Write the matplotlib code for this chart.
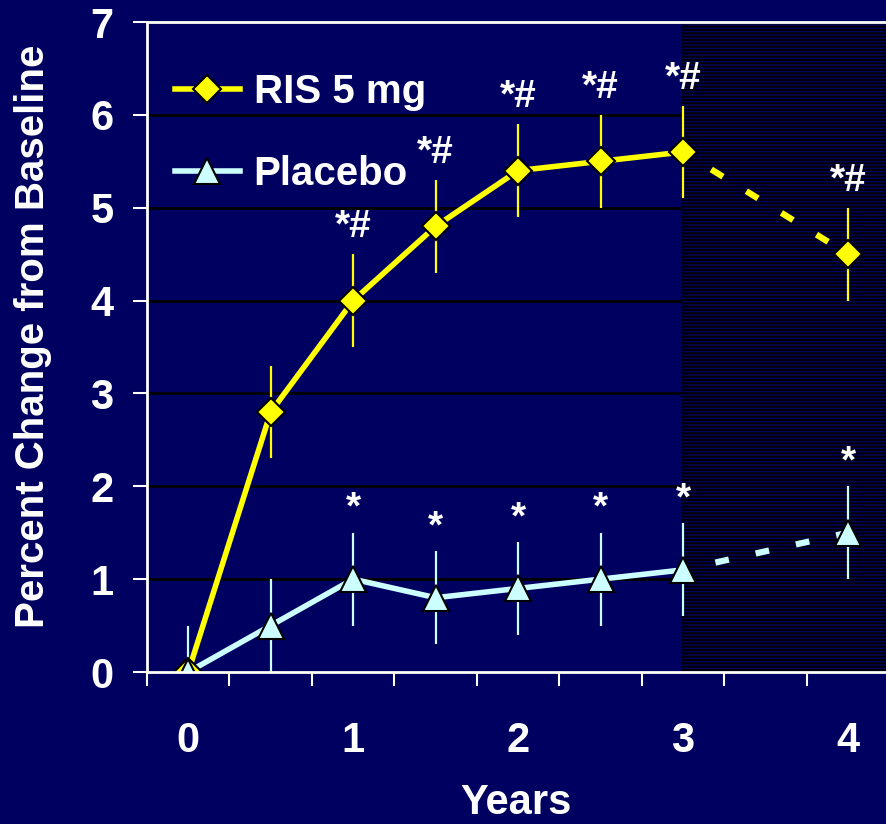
import matplotlib
matplotlib.use("Agg")
import matplotlib.pyplot as plt

plt.rcParams['font.family'] = ['Liberation Sans', 'DejaVu Sans']
plt.rcParams['font.weight'] = 'bold'
plt.rcParams['hatch.linewidth'] = 1.0

navy = '#000060'
yellow = '#FFFF00'
cyan = '#CCFFFF'

years = [0, 0.5, 1, 1.5, 2, 2.5, 3, 4]
ris = [0, 2.8, 4.0, 4.8, 5.4, 5.5, 5.6, 4.5]
ris_err = [0, 0.5, 0.5, 0.5, 0.5, 0.5, 0.5, 0.5]
pbo = [0, 0.5, 1.0, 0.8, 0.9, 1.0, 1.1, 1.5]
pbo_err = [0.5, 0.5, 0.5, 0.5, 0.5, 0.5, 0.5, 0.5]
ris_sig = ['', '', '*#', '*#', '*#', '*#', '*#', '*#']
pbo_sig = ['', '', '*', '*', '*', '*', '*', '*']
xlabels = ['0', '1', '2', '3', '4']

fig = plt.figure(figsize=(8.86, 8.24), dpi=100, facecolor=navy)
ax = fig.add_axes([147/886, 1-672/824, 1-147/886, 650/824])
ax.set_facecolor(navy)

# extension period shading
ax.axvspan(2.99, 4.5, facecolor='black', edgecolor=navy, hatch='-----', linewidth=0, zorder=1)

ax.set_axisbelow(True)
ax.yaxis.grid(True, color='black', linewidth=2)

# error bars
ax.errorbar(years, ris, yerr=ris_err, fmt='none', ecolor=yellow, elinewidth=1.6, capsize=0, zorder=3)
ax.errorbar(years, pbo, yerr=pbo_err, fmt='none', ecolor=cyan, elinewidth=1.6, capsize=0, zorder=3)

# lines: solid through year 3, dashed to year 4
dash = (1.3, (2.2, 4.4))
ax.plot(years[:7], ris[:7], color=yellow, lw=4, zorder=4)
ax.plot(years[6:], ris[6:], color=yellow, lw=4.5, linestyle=dash, dash_capstyle='butt', zorder=4)
ax.plot(years[:7], pbo[:7], color=cyan, lw=4, zorder=5)
ax.plot(years[6:], pbo[6:], color=cyan, lw=4.5, linestyle=dash, dash_capstyle='butt', zorder=5)

ax.plot(years, ris, 'D', ms=14, mfc=yellow, mec='black', mew=1.5, zorder=6)
ax.plot(years, pbo, '^', ms=19, mfc=cyan, mec='black', mew=1.5, zorder=7)

# legend handles
h1, = ax.plot([], [], color=yellow, lw=4, marker='D', ms=14, mfc=yellow, mec='black', mew=1.5)
h2, = ax.plot([], [], color=cyan, lw=4, marker='^', ms=19, mfc=cyan, mec='black', mew=1.5)
leg = ax.legend([h1, h2], ['RIS 5 mg', 'Placebo'], loc='upper left', frameon=False,
                fontsize=29, handlelength=1.6, handletextpad=0.35, labelspacing=1.1,
                bbox_to_anchor=(0.0, 0.965), borderaxespad=0.3)
for t in leg.get_texts():
    t.set_color('white')

for x, y, e, s in zip(years, ris, ris_err, ris_sig):
    if s:
        ax.annotate(s, (x, y + e), xytext=(0, 12), textcoords='offset points',
                    ha='center', va='baseline', color='white', fontsize=28, fontweight='bold')
for x, y, e, s in zip(years, pbo, pbo_err, pbo_sig):
    if s:
        ax.annotate(s, (x, y + e), xytext=(0, 10), textcoords='offset points',
                    ha='center', va='baseline', color='white', fontsize=28, fontweight='bold')

ax.set_xlim(-0.25, 4.23)
ax.set_ylim(0, 7)
ax.set_xticks([0, 1, 2, 3, 4])
ax.set_xticklabels(xlabels)
ax.set_xticks([-0.25, 0.25, 0.75, 1.25, 1.75, 2.25, 2.75, 3.25, 3.75], minor=True)
ax.set_yticks(range(8))
ax.tick_params(axis='x', which='major', length=0, pad=35, labelsize=30, labelcolor='white')
ax.tick_params(axis='x', which='minor', length=10, width=1.5, color='white', direction='out')
ax.tick_params(axis='y', length=10, width=1.5, color='white', pad=14, labelsize=30, labelcolor='white')

for side in ['left', 'bottom', 'top']:
    ax.spines[side].set_color('white')
    ax.spines[side].set_linewidth(2)
    ax.spines[side].set_zorder(8)
ax.spines['right'].set_visible(False)

ax.set_xlabel('Years', color='white', fontsize=30, fontweight='bold', labelpad=16)
ax.set_ylabel('Percent Change from Baseline', color='white', fontsize=29, fontweight='bold')
ax.yaxis.set_label_coords(-0.128, 0.517)

fig.savefig('out.png', dpi=100, facecolor=navy)
